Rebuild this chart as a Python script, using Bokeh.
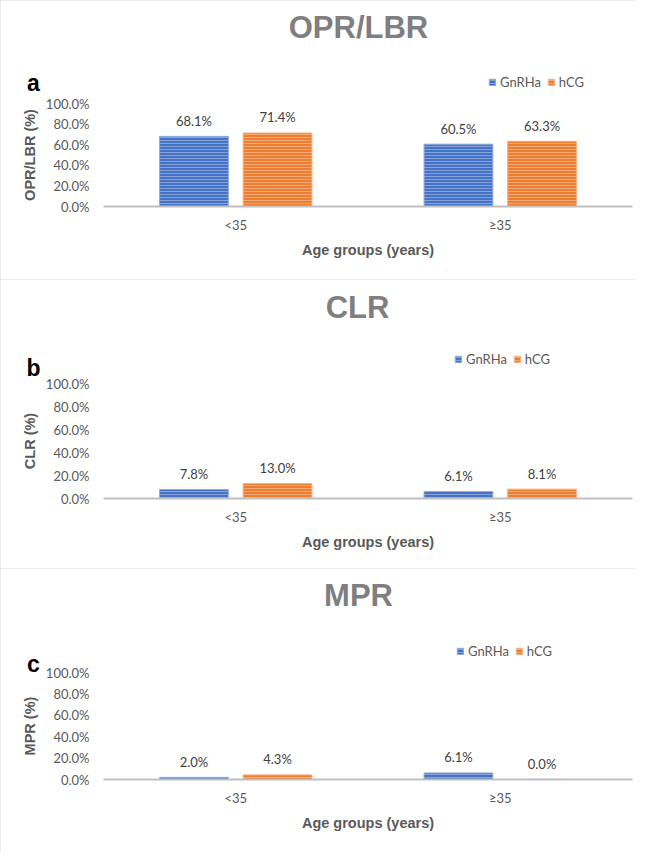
from bokeh.plotting import figure
from bokeh.layouts import column
from bokeh.models import (ColumnDataSource, Range1d, FixedTicker, PrintfTickFormatter,
                          LabelSet, Label, Legend, LegendItem)
from bokeh.transform import dodge
from bokeh.embed import file_html
from bokeh.resources import INLINE
from bokeh.core.properties import value

# ---------------- data ----------------
ages = ["<35", "≥35"]
series_names = ["GnRHa", "hCG"]
opr_gnrha = [68.1, 60.5]
opr_hcg = [71.4, 63.3]
clr_gnrha = [7.8, 6.1]
clr_hcg = [13.0, 8.1]
mpr_gnrha = [2.0, 6.1]
mpr_hcg = [4.3, 0.0]
y_ticks = [0, 20, 40, 60, 80, 100]
titles = ["OPR/LBR", "CLR", "MPR"]
letters = ["a", "b", "c"]
y_labels = ["OPR/LBR (%)", "CLR (%)", "MPR (%)"]
x_label = "Age groups (years)"

# ---------------- styles / layout ----------------
BLUE = "#4472C4"
ORANGE = "#ED7D31"
W = 635
FRAME_L = 103          # pixel where first category starts
CAT_PX = 264.5         # pixels per category
TICK_FONT = "Lato"
BOLD_FONT = "Liberation Sans"
DODGE = 0.158
BAR_W = 0.26

layouts = [
    dict(h=279, y100=103, y0=206, title=(358, 27), letter=(33, 82), legend=(488, 82)),
    dict(h=289, y100=104, y0=219, title=(357, 28), letter=(33, 88), legend=(454, 80)),
    dict(h=283, y100=104, y0=211, title=(358, 27), letter=(33, 95), legend=(456, 83)),
]


def make_panel(i, g_vals, h_vals):
    L = layouts[i]
    n = len(ages)
    ppu = (L["y0"] - L["y100"]) / 100.0
    x_start = -FRAME_L / CAT_PX
    x_end = x_start + W / CAT_PX
    p = figure(width=W, height=L["h"], x_range=Range1d(x_start, x_end),
               y_range=Range1d(-(L["h"] - L["y0"]) / ppu, L["y0"] / ppu),
               output_backend="svg", toolbar_location=None, min_border=0,
               min_border_left=0, min_border_right=0, min_border_top=0,
               min_border_bottom=0)
    p.outline_line_color = None
    p.xgrid.visible = False
    p.ygrid.visible = False
    p.background_fill_color = "white"
    p.border_fill_color = "white"
    p.styles = {"outline": "1.5px solid #D9D9D9", "outline-offset": "-1.5px"}

    centers = [k + 0.5 for k in range(n)]
    src = ColumnDataSource(dict(
        xc=centers, g=g_vals, h=h_vals,
        gt=[f"{v:.1f}%" for v in g_vals], ht=[f"{v:.1f}%" for v in h_vals]))

    rg = p.vbar(x=dodge("xc", -DODGE), top="g", bottom=0, width=BAR_W,
                source=src, fill_color=BLUE, line_color="#8FAADC", line_width=1,
                hatch_pattern="horizontal_line", hatch_color="white", hatch_alpha=0.35,
                hatch_scale=3, hatch_weight=1)
    rh = p.vbar(x=dodge("xc", DODGE), top="h", bottom=0, width=BAR_W,
                source=src, fill_color=ORANGE, line_color="#F4B183", line_width=1,
                hatch_pattern="horizontal_line", hatch_color="white", hatch_alpha=0.35,
                hatch_scale=3, hatch_weight=1)

    for key, tkey, off in (("g", "gt", -DODGE), ("h", "ht", DODGE)):
        p.add_layout(LabelSet(x=dodge("xc", off), y=key, text=tkey,
                              source=src, y_offset=15.5, text_align="center",
                              text_baseline="middle", text_font=value(TICK_FONT),
                              text_font_size="13px", text_color="#404040"))

    # y axis, pinned at the start of the category area
    ya = p.yaxis[0]
    ya.fixed_location = 0
    ya.bounds = (0, 100)
    ya.ticker = FixedTicker(ticks=y_ticks)
    ya.formatter = PrintfTickFormatter(format="%.1f%%")
    ya.axis_line_color = None
    ya.major_tick_line_color = None
    ya.minor_tick_line_color = None
    ya.major_tick_out = 0
    ya.major_label_standoff = 14
    ya.major_label_text_font = TICK_FONT
    ya.major_label_text_font_size = "13px"
    ya.major_label_text_color = "#595959"
    ya.axis_label = y_labels[i]
    ya.axis_label_text_font = BOLD_FONT
    ya.axis_label_text_font_style = "bold"
    ya.axis_label_text_font_size = "14.5px"
    ya.axis_label_text_color = "#595959"
    ya.axis_label_standoff = 5

    # x axis, pinned at y = 0
    xa = p.xaxis[0]
    xa.fixed_location = 0
    xa.bounds = (0, n)
    xa.ticker = FixedTicker(ticks=centers)
    xa.major_label_overrides = {c: a for c, a in zip(centers, ages)}
    xa.axis_line_color = "#BFBFBF"
    xa.axis_line_width = 2
    xa.major_tick_line_color = None
    xa.minor_tick_line_color = None
    xa.major_tick_out = 0
    xa.major_label_standoff = 10
    xa.major_label_text_font = TICK_FONT
    xa.major_label_text_font_size = "13px"
    xa.major_label_text_color = "#595959"
    xa.axis_label = x_label
    xa.axis_label_text_font = BOLD_FONT
    xa.axis_label_text_font_style = "bold"
    xa.axis_label_text_font_size = "14.5px"
    xa.axis_label_text_color = "#595959"
    xa.axis_label_standoff = 6

    fb = L["h"]
    tx, ty = L["title"]
    p.add_layout(Label(x=tx, y=fb - ty, x_units="screen", y_units="screen",
                       text=titles[i], text_align="center", text_baseline="middle",
                       text_font=BOLD_FONT, text_font_style="bold", text_font_size="31px",
                       text_color="#7F7F7F"))
    lx, ly = L["letter"]
    p.add_layout(Label(x=lx, y=fb - ly, x_units="screen", y_units="screen",
                       text=letters[i], text_align="center", text_baseline="middle",
                       text_font=BOLD_FONT, text_font_style="bold", text_font_size="23px",
                       text_color="black"))

    gx, gy = L["legend"]
    legend = Legend(items=[LegendItem(label=series_names[0], renderers=[rg]),
                           LegendItem(label=series_names[1], renderers=[rh])],
                    orientation="horizontal", location=(gx, fb - gy - 10),
                    glyph_width=8, glyph_height=8, label_height=20, label_standoff=4,
                    spacing=6, padding=0, margin=0, border_line_color=None,
                    background_fill_alpha=0, label_text_font=TICK_FONT,
                    label_text_font_size="13px", label_text_color="#595959")
    p.add_layout(legend)
    return p


pa = make_panel(0, opr_gnrha, opr_hcg)
pb = make_panel(1, clr_gnrha, clr_hcg)
pc = make_panel(2, mpr_gnrha, mpr_hcg)

layout = column(pa, pb, pc, spacing=0)
open("out.html", "w").write(file_html(layout, INLINE))
